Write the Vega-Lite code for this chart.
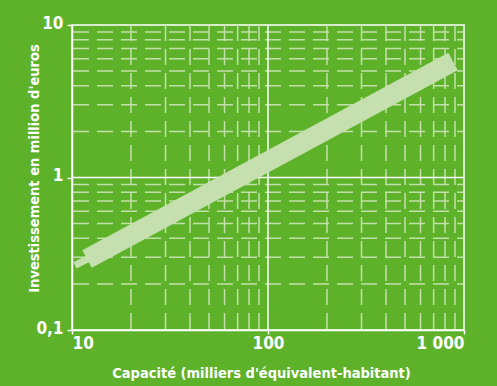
{
  "$schema": "https://vega.github.io/schema/vega-lite/v6.json",
  "width": 392,
  "height": 305,
  "autosize": {"type": "none"},
  "padding": {"left": 72, "top": 25, "right": 33, "bottom": 56},
  "background": "#5db22a",
  "config": {
    "view": {"stroke": "white", "strokeWidth": 1.5},
    "font": "'DejaVu Sans Condensed', 'Liberation Sans', sans-serif"
  },
  "datasets": {
    "vminor": [{"x": 20}, {"x": 30}, {"x": 40}, {"x": 50}, {"x": 60}, {"x": 70}, {"x": 80}, {"x": 90}, {"x": 200}, {"x": 300}, {"x": 400}, {"x": 500}, {"x": 600}, {"x": 700}, {"x": 800}, {"x": 900}],
    "hminor": [{"y": 0.2}, {"y": 0.3}, {"y": 0.4}, {"y": 0.5}, {"y": 0.6}, {"y": 0.7}, {"y": 0.8}, {"y": 0.9}, {"y": 2}, {"y": 3}, {"y": 4}, {"y": 5}, {"y": 6}, {"y": 7}, {"y": 8}, {"y": 9}],
    "vmajor": [{"x": 100}],
    "hmajor": [{"y": 1}],
    "band": [{"x": 11.93, "y": 0.292}, {"x": 879, "y": 5.76}],
    "stub": [{"x": 10.36, "y": 0.265}, {"x": 12.1, "y": 0.294}]
  },
  "layer": [
    {
      "data": {"name": "vminor"},
      "mark": {"type": "rule", "color": "#c3e0ab", "strokeWidth": 1.5, "strokeDash": [16, 8]},
      "encoding": {
        "x": {"field": "x", "type": "quantitative", "scale": {"type": "log", "domain": [10, 1000], "nice": false}}
      }
    },
    {
      "data": {"name": "hminor"},
      "mark": {"type": "rule", "color": "#c3e0ab", "strokeWidth": 1.5, "strokeDash": [16, 8], "strokeDashOffset": 9},
      "encoding": {
        "y": {"field": "y", "type": "quantitative", "scale": {"type": "log", "domain": [0.1, 10], "nice": false}}
      }
    },
    {
      "data": {"name": "vmajor"},
      "mark": {"type": "rule", "color": "white", "strokeWidth": 1.5},
      "encoding": {
        "x": {"field": "x", "type": "quantitative", "scale": {"type": "log", "domain": [10, 1000], "nice": false}}
      }
    },
    {
      "data": {"name": "hmajor"},
      "mark": {"type": "rule", "color": "white", "strokeWidth": 1.5},
      "encoding": {
        "y": {"field": "y", "type": "quantitative", "scale": {"type": "log", "domain": [0.1, 10], "nice": false}}
      }
    },
    {
      "data": {"name": "stub"},
      "mark": {"type": "line", "color": "#c5e0ae", "strokeWidth": 7, "strokeCap": "butt"},
      "encoding": {
        "x": {"field": "x", "type": "quantitative", "scale": {"type": "log", "domain": [10, 1000], "nice": false}},
        "y": {"field": "y", "type": "quantitative", "scale": {"type": "log", "domain": [0.1, 10], "nice": false}}
      }
    },
    {
      "data": {"name": "band"},
      "mark": {"type": "line", "color": "#c5e0ae", "strokeWidth": 20, "strokeCap": "butt"},
      "encoding": {
        "x": {
          "field": "x", "type": "quantitative",
          "scale": {"type": "log", "domain": [10, 1000], "nice": false},
          "axis": {
            "values": [10, 100, 1000],
            "labelExpr": "datum.value == 1000 ? '1 000' : datum.label",
            "title": "Capacité (milliers d'équivalent-habitant)",
            "grid": false,
            "domainColor": "white", "domainWidth": 1.5,
            "tickColor": "white", "tickWidth": 1.5, "tickSize": 4,
            "labelColor": "white", "labelFontWeight": "bold", "labelFontSize": 17,
            "labelPadding": 1, "labelFlush": true,
            "titleColor": "white", "titleFontWeight": "bold", "titleFontSize": 14.5,
            "titleX": 189, "titleY": 47, "titleBaseline": "alphabetic"
          }
        },
        "y": {
          "field": "y", "type": "quantitative",
          "scale": {"type": "log", "domain": [0.1, 10], "nice": false},
          "axis": {
            "values": [0.1, 1, 10],
            "labelExpr": "datum.value < 0.5 ? '0,1' : datum.label",
            "title": "Investissement en million d'euros",
            "grid": false,
            "domainColor": "white", "domainWidth": 1.5,
            "tickColor": "white", "tickWidth": 1.5, "tickSize": 5,
            "labelColor": "white", "labelFontWeight": "bold", "labelFontSize": 17,
            "labelPadding": 4, "labelOffset": -2,
            "titleColor": "white", "titleFontWeight": "bold", "titleFontSize": 14.5,
            "titleX": -34, "titleY": 143, "titleBaseline": "alphabetic", "titleAlign": "center", "titleAngle": -90
          }
        }
      }
    }
  ]
}
